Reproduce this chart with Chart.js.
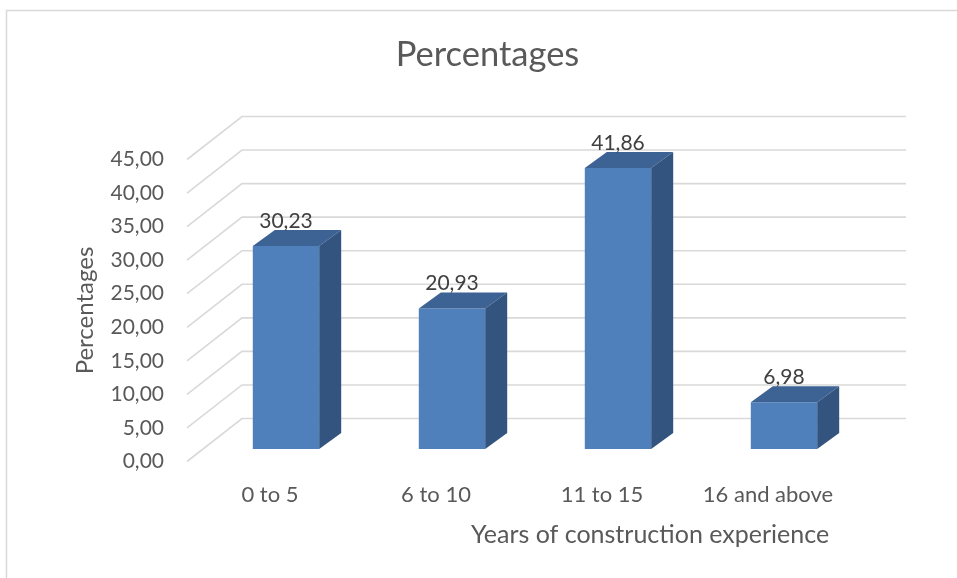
<!DOCTYPE html>
<html>
<head>
<meta charset="utf-8">
<script src="https://cdn.jsdelivr.net/npm/chart.js@4.4.1/dist/chart.umd.min.js"></script>
<style>
  html, body { margin: 0; padding: 0; background: #ffffff; }
  canvas { display: block; }
</style>
</head>
<body>
<canvas id="chart" width="957" height="578"></canvas>
<script>
// Survey respondents by years of construction experience (%)
const categories = ['0 to 5', '6 to 10', '11 to 15', '16 and above'];
const percentages = [30.23, 20.93, 41.86, 6.98];
const yTicks = [0, 5, 10, 15, 20, 25, 30, 35, 40, 45];

const chartTitle = 'Percentages';
const yAxisTitle = 'Percentages';
const xAxisTitle = 'Years of construction experience';

const fmt = v => v.toFixed(2).replace('.', ',');

// pseudo-3D geometry
const WALL = { dx: 55, dy: 43 };          // depth of floor / side wall
const BAR_PLANE = { dx: 16, dy: -12.5 };  // bars sit part-way into the depth
const BAR_DEPTH = { dx: 22, dy: 16 };     // thickness of each column

const TEXT = '#595959';
const GRID = '#d9d9d9';
const FACE = '#4f80bc';
const TOP = '#3c6394';
const SIDE = '#32547f';
const FONT = 'Lato, "Open Sans", sans-serif';

const frame = {
  id: 'frame',
  beforeDraw(chart) {
    const ctx = chart.ctx;
    ctx.save();
    ctx.strokeStyle = GRID;
    ctx.lineWidth = 1.5;
    ctx.beginPath();
    ctx.moveTo(6.5, 600);
    ctx.lineTo(6.5, 10.5);
    ctx.lineTo(980, 10.5);
    ctx.stroke();
    ctx.restore();
  },
  afterDraw(chart) {
    const ctx = chart.ctx;
    ctx.save();
    ctx.fillStyle = TEXT;
    ctx.textAlign = 'center';
    ctx.textBaseline = 'middle';
    ctx.font = '34.5px ' + FONT;
    ctx.fillText(chartTitle, 487.5, 55);
    ctx.font = '25px ' + FONT;
    ctx.fillText(xAxisTitle, 650, 535);
    ctx.restore();
  }
};

const walls = {
  id: 'walls',
  beforeDatasetsDraw(chart) {
    const { ctx, chartArea, scales } = chart;
    ctx.save();
    ctx.strokeStyle = GRID;
    ctx.lineWidth = 1.6;
    yTicks.forEach(v => {
      const y = scales.y.getPixelForValue(v);
      ctx.beginPath();
      ctx.moveTo(chartArea.left, y);
      ctx.lineTo(chartArea.left + WALL.dx, y - WALL.dy);
      ctx.lineTo(chartArea.right + WALL.dx, y - WALL.dy);
      ctx.stroke();
    });
    ctx.restore();
    // move the columns into their depth plane
    ctx.save();
    ctx.translate(BAR_PLANE.dx, BAR_PLANE.dy);
  },
  afterDatasetsDraw(chart) {
    const ctx = chart.ctx;
    const meta = chart.getDatasetMeta(0);
    meta.data.forEach((bar, i) => {
      const { x, y, base, width } = bar.getProps(['x', 'y', 'base', 'width'], true);
      const l = x - width / 2, r = x + width / 2;
      const { dx, dy } = BAR_DEPTH;
      // top face
      ctx.fillStyle = TOP;
      ctx.beginPath();
      ctx.moveTo(l, y);
      ctx.lineTo(l + dx, y - dy);
      ctx.lineTo(r + dx, y - dy);
      ctx.lineTo(r, y);
      ctx.closePath();
      ctx.fill();
      // side face
      ctx.fillStyle = SIDE;
      ctx.beginPath();
      ctx.moveTo(r, y);
      ctx.lineTo(r + dx, y - dy);
      ctx.lineTo(r + dx, base - dy);
      ctx.lineTo(r, base);
      ctx.closePath();
      ctx.fill();
      // value label
      ctx.fillStyle = '#404040';
      ctx.font = '21px ' + FONT;
      ctx.textAlign = 'center';
      ctx.textBaseline = 'middle';
      ctx.fillText(fmt(percentages[i]), x, y - 25);
    });
    ctx.restore();
  }
};

new Chart(document.getElementById('chart'), {
  type: 'bar',
  data: {
    labels: categories,
    datasets: [{
      label: chartTitle,
      data: percentages,
      backgroundColor: FACE,
      borderWidth: 0,
      categoryPercentage: 1,
      barPercentage: 0.4,
      clip: false
    }]
  },
  options: {
    responsive: false,
    devicePixelRatio: 1,
    animation: false,
    layout: { padding: { left: 0, right: 106, top: 159.5, bottom: 0 } },
    plugins: {
      legend: { display: false },
      tooltip: { enabled: false },
      title: { display: false }
    },
    scales: {
      x: {
        grid: { display: false, drawTicks: false },
        border: { display: false },
        ticks: { color: TEXT, font: { family: FONT, size: 22 }, padding: 20, maxRotation: 0 },
        afterFit(s) { s.height = 116.5; }
      },
      y: {
        min: 0,
        max: 45,
        grid: { display: false, drawTicks: false },
        border: { display: false },
        afterBuildTicks(s) { s.ticks = yTicks.map(v => ({ value: v })); },
        ticks: {
          color: TEXT,
          font: { family: FONT, size: 21 },
          padding: 23,
          callback: v => fmt(v)
        },
        title: {
          display: true,
          text: yAxisTitle,
          color: TEXT,
          font: { family: FONT, size: 24 },
          padding: { top: 71, bottom: 0 }
        },
        afterFit(s) { s.width = 187; }
      }
    }
  },
  plugins: [frame, walls]
});
</script>
</body>
</html>
